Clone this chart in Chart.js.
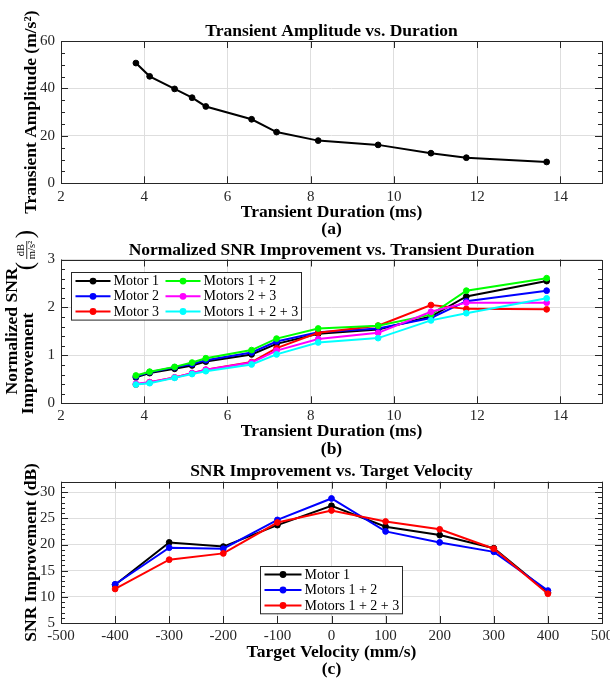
<!DOCTYPE html>
<html>
<head>
<meta charset="utf-8">
<script src="https://cdn.jsdelivr.net/npm/chart.js@4.4.1/dist/chart.umd.min.js"></script>
<style>
  body { margin: 0; background: #fff; width: 610px; height: 678px; position: relative; overflow: hidden; }
  canvas { position: absolute; left: 0; }
</style>
</head>
<body>
<canvas id="chartA" width="610" height="238" style="top:0px"></canvas>
<canvas id="chartB" width="610" height="236" style="top:222px"></canvas>
<canvas id="chartC" width="610" height="220" style="top:458px"></canvas>
<script>
// (a) transient amplitude vs duration
const duration = [3.80, 4.13, 4.73, 5.15, 5.48, 6.58, 7.18, 8.18, 9.62, 10.89, 11.74, 13.67];
const amplitude = [50.7, 45.1, 39.8, 36.1, 32.4, 27.0, 21.6, 18.0, 16.2, 12.7, 10.8, 9.0];

// (b) normalized SNR improvement, same durations
const snrLabels = ['Motor 1', 'Motor 2', 'Motor 3', 'Motors 1 + 2', 'Motors 2 + 3', 'Motors 1 + 2 + 3'];
const motor1 = [0.54, 0.63, 0.72, 0.79, 0.87, 1.02, 1.24, 1.45, 1.54, 1.81, 2.23, 2.55];
const motor2 = [0.56, 0.65, 0.75, 0.82, 0.90, 1.06, 1.29, 1.48, 1.56, 1.78, 2.13, 2.35];
const motor3 = [0.39, 0.44, 0.54, 0.63, 0.70, 0.86, 1.15, 1.47, 1.62, 2.05, 1.97, 1.96];
const motors12 = [0.58, 0.66, 0.76, 0.85, 0.94, 1.11, 1.35, 1.56, 1.62, 1.85, 2.35, 2.61];
const motors23 = [0.41, 0.44, 0.54, 0.63, 0.70, 0.85, 1.10, 1.34, 1.47, 1.91, 2.10, 2.10];
const motors123 = [0.39, 0.42, 0.53, 0.61, 0.67, 0.81, 1.02, 1.27, 1.36, 1.73, 1.88, 2.19];

// (c) SNR improvement vs target velocity
const velocity = [-400, -300, -200, -100, 0, 100, 200, 300, 400];
const velLabels = ['Motor 1', 'Motors 1 + 2', 'Motors 1 + 2 + 3'];
const velMotor1 = [12.3, 20.4, 19.6, 23.7, 27.4, 23.4, 21.8, 19.3, 10.8];
const velMotors12 = [12.4, 19.4, 19.2, 24.7, 28.8, 22.5, 20.4, 18.6, 11.2];
const velMotors123 = [11.5, 17.1, 18.3, 24.2, 26.5, 24.4, 22.9, 19.2, 10.6];

const colorsB = ['#000000', '#0000ff', '#ff0000', '#00ff00', '#ff00ff', '#00ffff'];
const colorsC = ['#000000', '#0000ff', '#ff0000'];

const SERIF = "'Liberation Serif', 'DejaVu Serif', serif";
const BOLD = 17.5;
Chart.defaults.font.family = SERIF;
Chart.defaults.color = '#262626';
Chart.defaults.animation = false;

function pts(xs, ys) {
  return xs.map((x, i) => ({ x: x, y: ys[i] }));
}

function series(label, xs, ys, color, order) {
  return {
    label: label,
    data: pts(xs, ys),
    borderColor: color,
    backgroundColor: color,
    pointBackgroundColor: color,
    pointBorderColor: color,
    borderWidth: 2,
    pointRadius: 2.9,
    pointBorderWidth: 1,
    tension: 0,
    order: order
  };
}

// matlab-ish box, inward ticks and legend with line + marker
const matlabAxes = {
  id: 'matlabAxes',
  afterDraw(chart, args, opts) {
    const ctx = chart.ctx, a = chart.chartArea;
    const xs = chart.scales.x, ys = chart.scales.y;
    ctx.save();
    ctx.strokeStyle = '#262626';
    ctx.lineWidth = 1;
    ctx.beginPath();
    xs.ticks.forEach(t => {
      const p = Math.round(xs.getPixelForValue(t.value)) + 0.5;
      ctx.moveTo(p, a.bottom); ctx.lineTo(p, a.bottom - 7);
      ctx.moveTo(p, a.top); ctx.lineTo(p, a.top + 7);
    });
    ys.ticks.forEach(t => {
      const p = Math.round(ys.getPixelForValue(t.value)) + 0.5;
      ctx.moveTo(a.left, p); ctx.lineTo(a.left + 7, p);
      ctx.moveTo(a.right, p); ctx.lineTo(a.right - 7, p);
    });
    if (opts.minorY) {
      const n = Math.round((ys.max - ys.min) / opts.minorY);
      for (let i = 0; i <= n; i++) {
        const p = Math.round(ys.getPixelForValue(ys.min + i * opts.minorY)) + 0.5;
        ctx.moveTo(a.left, p); ctx.lineTo(a.left + 4, p);
        ctx.moveTo(a.right, p); ctx.lineTo(a.right - 4, p);
      }
    }
    ctx.stroke();
    ctx.strokeRect(Math.round(a.left) + 0.5, Math.round(a.top) + 0.5,
      Math.round(a.right) - Math.round(a.left), Math.round(a.bottom) - Math.round(a.top));

    const lg = opts.legend;
    if (lg) {
      const x0 = Math.round(a.left + lg.dx) + 0.5, y0 = Math.round(a.top + lg.dy) + 0.5;
      ctx.fillStyle = '#fff';
      ctx.fillRect(x0, y0, lg.w, lg.h);
      ctx.strokeStyle = '#262626';
      ctx.strokeRect(x0, y0, lg.w, lg.h);
      ctx.font = '14px ' + SERIF;
      ctx.textBaseline = 'middle';
      ctx.textAlign = 'left';
      chart.data.datasets.forEach((d, i) => {
        const col = Math.floor(i / lg.rows), row = i % lg.rows;
        const lx = x0 + lg.pad + col * lg.colW;
        const ly = y0 + lg.top + row * lg.rowH;
        ctx.strokeStyle = d.borderColor;
        ctx.lineWidth = 2;
        ctx.beginPath();
        ctx.moveTo(lx, ly); ctx.lineTo(lx + lg.lineW, ly);
        ctx.stroke();
        ctx.fillStyle = d.borderColor;
        ctx.beginPath();
        ctx.arc(lx + lg.lineW / 2, ly, 3.4, 0, Math.PI * 2);
        ctx.fill();
        ctx.fillStyle = '#000';
        ctx.fillText(d.label, lx + lg.lineW + 3, ly + 0.5);
      });
    }
    ctx.restore();
  }
};

function scalesFor(p) {
  return {
    x: {
      type: 'linear', min: p.xMin, max: p.xMax,
      ticks: { stepSize: p.xStep, includeBounds: false, padding: p.xTickPad, maxRotation: 0, autoSkip: false, font: { size: 15 } },
      grid: { color: '#dedede', drawTicks: false },
      border: { display: false },
      title: { display: true, text: p.xTitle, color: '#000', font: { size: BOLD, weight: 'bold', lineHeight: 1 }, padding: { top: 0, bottom: p.xTitlePad } },
      afterFit(s) { s.height = p.xHeight; s.paddingLeft = 0; s.paddingRight = 0; }
    },
    y: {
      type: 'linear', min: p.yMin, max: p.yMax,
      ticks: { stepSize: p.yStep, includeBounds: false, padding: 6, autoSkip: false, font: { size: 15 } },
      grid: { color: '#dedede', drawTicks: false },
      border: { display: false },
      title: { display: !!p.yTitle, text: p.yTitle || '', color: '#000', font: { size: BOLD, weight: 'bold', lineHeight: 1 }, padding: { top: 22.5, bottom: 0 } },
      afterFit(s) { s.width = 61; s.paddingTop = 0; s.paddingBottom = 0; }
    }
  };
}

function pluginsFor(p) {
  return {
    legend: { display: false },
    tooltip: { enabled: false },
    title: { display: true, text: p.title, color: '#000', fullSize: false, font: { size: BOLD, weight: 'bold', lineHeight: 1 }, padding: { top: p.titleTop, bottom: p.titleBottom } },
    subtitle: { display: true, position: 'bottom', text: p.caption, color: '#000', fullSize: false, font: { size: BOLD, weight: 'bold', lineHeight: 1 }, padding: { top: 0, bottom: p.captionBottom } },
    matlabAxes: { minorY: p.minorY, legend: p.legend }
  };
}

// (a)
new Chart(document.getElementById('chartA'), {
  type: 'line',
  data: { datasets: [series('Amplitude', duration, amplitude, '#000000', 0)] },
  options: {
    responsive: false,
    layout: { padding: { left: 0, right: 8, top: 0, bottom: 0 } },
    scales: scalesFor({ xMin: 2, xMax: 15, xStep: 2, yMin: 0, yMax: 60, yStep: 20,
      xTitle: 'Transient Duration (ms)', yTitle: 'Transient Amplitude (m/s\u00b2)',
      xTickPad: 5, xTitlePad: -1, xHeight: 37.2 }),
    plugins: pluginsFor({ title: 'Transient Amplitude vs. Duration', caption: '(a)',
      titleTop: 23, titleBottom: 0.5, captionBottom: 0, minorY: 5 })
  },
  plugins: [matlabAxes]
});

// (b) y label with a fraction, drawn by hand
const snrYLabel = {
  id: 'snrYLabel',
  afterDraw(chart) {
    const ctx = chart.ctx;
    ctx.save();
    ctx.fillStyle = '#000';
    ctx.textAlign = 'center';
    ctx.textBaseline = 'middle';
    ctx.rotate(-Math.PI / 2);
    // rotated frame: fillText(t, -screenY, screenX)
    ctx.font = 'bold ' + BOLD + 'px ' + SERIF;
    ctx.fillText('Normalized SNR', -109, 12);
    ctx.fillText('Improvement', -141.5, 28);
    ctx.font = '25px ' + SERIF;
    ctx.fillText('(', -44, 26.5);
    ctx.fillText(')', -12, 26.5);
    ctx.font = '10.5px ' + SERIF;
    ctx.fillText('dB', -28, 21.5);
    ctx.fillText('m/s\u00b2', -28, 32);
    ctx.fillRect(-37, 26.4, 18, 0.8);
    ctx.restore();
  }
};

new Chart(document.getElementById('chartB'), {
  type: 'line',
  data: {
    datasets: [
      series(snrLabels[0], duration, motor1, colorsB[0], 6),
      series(snrLabels[1], duration, motor2, colorsB[1], 5),
      series(snrLabels[2], duration, motor3, colorsB[2], 4),
      series(snrLabels[3], duration, motors12, colorsB[3], 3),
      series(snrLabels[4], duration, motors23, colorsB[4], 2),
      series(snrLabels[5], duration, motors123, colorsB[5], 1)
    ]
  },
  options: {
    responsive: false,
    layout: { padding: { left: 0, right: 8, top: 0, bottom: 0 } },
    scales: scalesFor({ xMin: 2, xMax: 15, xStep: 2, yMin: 0, yMax: 3, yStep: 1,
      xTitle: 'Transient Duration (ms)', yTitle: null,
      xTickPad: 4, xTitlePad: 0, xHeight: 37.2 }),
    plugins: pluginsFor({ title: 'Normalized SNR Improvement vs. Transient Duration', caption: '(b)',
      titleTop: 20, titleBottom: 0, captionBottom: 0, minorY: 0.2,
      legend: { dx: 10, dy: 12.4, w: 230, h: 47.6, rows: 3, top: 8.6, rowH: 15.2, pad: 4, colW: 90, lineW: 35 } })
  },
  plugins: [matlabAxes, snrYLabel]
});

// (c)
new Chart(document.getElementById('chartC'), {
  type: 'line',
  data: {
    datasets: [
      series(velLabels[0], velocity, velMotor1, colorsC[0], 3),
      series(velLabels[1], velocity, velMotors12, colorsC[1], 2),
      series(velLabels[2], velocity, velMotors123, colorsC[2], 1)
    ]
  },
  options: {
    responsive: false,
    layout: { padding: { left: 0, right: 8, top: 0, bottom: 0 } },
    scales: scalesFor({ xMin: -500, xMax: 500, xStep: 100, yMin: 5, yMax: 32, yStep: 5,
      xTitle: 'Target Velocity (mm/s)', yTitle: 'SNR Improvement (dB)',
      xTickPad: 4.3, xTitlePad: -0.5, xHeight: 37.5 }),
    plugins: pluginsFor({ title: 'SNR Improvement vs. Target Velocity', caption: '(c)',
      titleTop: 5, titleBottom: 1.2, captionBottom: 0, minorY: 1,
      legend: { dx: 199, dy: 84.3, w: 142, h: 47.3, rows: 3, top: 8, rowH: 15.5, pad: 4, colW: 0, lineW: 37 } })
  },
  plugins: [matlabAxes]
});
</script>
</body>
</html>
